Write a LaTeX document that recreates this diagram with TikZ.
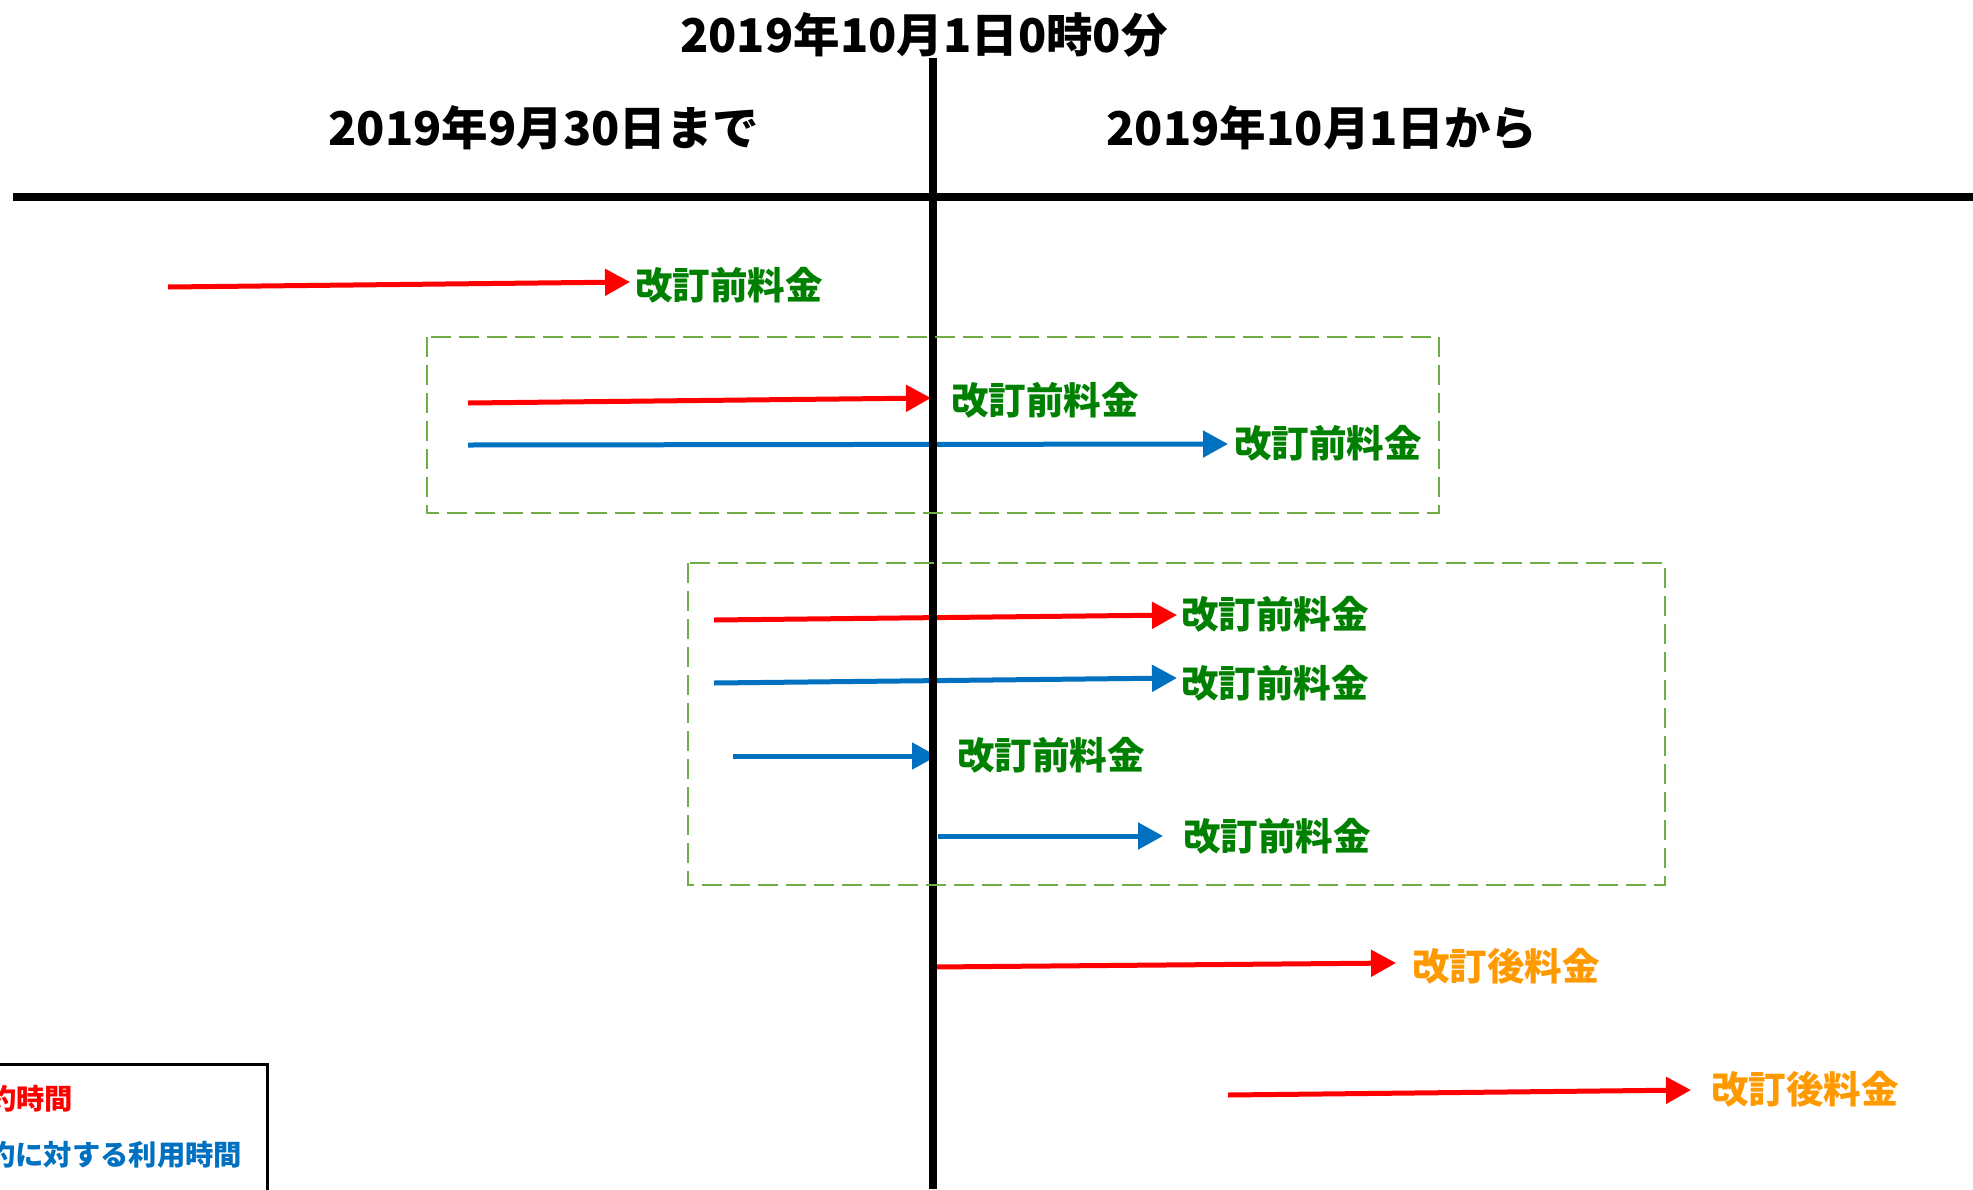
\documentclass[tikz,border=0pt]{standalone}
\usepackage{fontspec}
\usepackage{xcolor}
\usepackage{tikz}
\usetikzlibrary{arrows.meta}
\usetikzlibrary{positioning}
\newfontfamily\jpfont{Noto Sans CJK JP}
\definecolor{tred}{RGB}{255,0,0}
\definecolor{tblue}{RGB}{0,112,192}
\definecolor{tgreen}{RGB}{0,128,0}
\definecolor{torange}{RGB}{255,153,0}
\definecolor{boxgreen}{RGB}{112,173,71}
\tikzset{
    headtxt/.style = {inner sep=0, font=\jpfont\bfseries\fontsize{46.5}{56}\selectfont},
    lblpre/.style = {inner sep=0, anchor=west, text=tgreen, font=\jpfont\bfseries\fontsize{37.5}{45}\selectfont},
    lblpost/.style = {lblpre, text=torange},
    legtxt/.style = {inner sep=0, anchor=west, font=\jpfont\bfseries\fontsize{28.3}{34}\selectfont},
}

\begin{document}
\begin{tikzpicture}[x=1pt, y=-1pt]
\tikzset{
    arrr/.style = {-{Triangle[length=25pt,width=26pt]}, line width=5pt, tred},
    arrb/.style = {-{Triangle[length=25pt,width=26pt]}, line width=5pt, tblue},
    axisline/.style = {line width=8pt, black},
    grpbox/.style = {boxgreen, line width=2.7pt, dash pattern=on 20pt off 8pt},
}
\useasboundingbox[fill=white] (0,0) rectangle (1973,1189);
%
\node[headtxt] at (924,35) (title) {2019年10月1日0時0分};
\node[headtxt] at (544,128) (before) {2019年9月30日まで};
\node[headtxt] at (1322,128) (after) {2019年10月1日から};
%
\coordinate (s1) at (168,287);  \coordinate (e1) at (630,282);
\coordinate (s2) at (468,403);  \coordinate (e2) at (931,398);
\coordinate (s3) at (468,445);  \coordinate (e3) at (1228,444);
\coordinate (s4) at (714,620);  \coordinate (e4) at (1177,615);
\coordinate (s5) at (714,683);  \coordinate (e5) at (1177,678);
\coordinate (s6) at (733,756);  \coordinate (e6) at (937,756);
\coordinate (s7) at (938,836);  \coordinate (e7) at (1163,836);
\coordinate (s8) at (933,967);  \coordinate (e8) at (1396,963);
\coordinate (s9) at (1228,1095); \coordinate (e9) at (1691,1090);
%
\node[lblpre] at (635,285) (l1) {改訂前料金};
\node[lblpre] at (951,400) (l2) {改訂前料金};
\node[lblpre] at (1234,443) (l3) {改訂前料金};
\node[lblpre] at (1181,614) (l4) {改訂前料金};
\node[lblpre] at (1181,683) (l5) {改訂前料金};
\node[lblpre] at (957,755) (l6) {改訂前料金};
\node[lblpre] at (1183,836) (l7) {改訂前料金};
\node[lblpost] at (1412,966) (l8) {改訂後料金};
\node[lblpost] at (1711,1089) (l9) {改訂後料金};
%
\draw[arrr] (s1) -- (e1);
\draw[arrr] (s2) -- (e2);
\draw[arrb] (s3) -- (e3);
\draw[arrr] (s4) -- (e4);
\draw[arrb] (s5) -- (e5);
\draw[arrb] (s6) -- (e6);
\draw[arrb] (s7) -- (e7);
\draw[arrr] (s8) -- (e8);
\draw[arrr] (s9) -- (e9);
%
\coordinate (vtop) at (933,58);   \coordinate (vbot) at (933,1189);
\coordinate (hleft) at (13,197);  \coordinate (hright) at (1973,197);
\draw[axisline] (vtop) -- (vbot);
\draw[axisline] (hleft) -- (hright);
%
\draw[grpbox] (427,337) rectangle (1439,513);
\draw[grpbox] (688,563) rectangle (1665,885);
%
\draw[line width=3pt, black, fill=white] (-20,1064) rectangle (267,1210);
\node[legtxt, text=tred] at (-12,1099) (legr) {約時間};
\node[legtxt, text=tblue] at (-13,1155) (legb) {約に対する利用時間};
\end{tikzpicture}
\end{document}
